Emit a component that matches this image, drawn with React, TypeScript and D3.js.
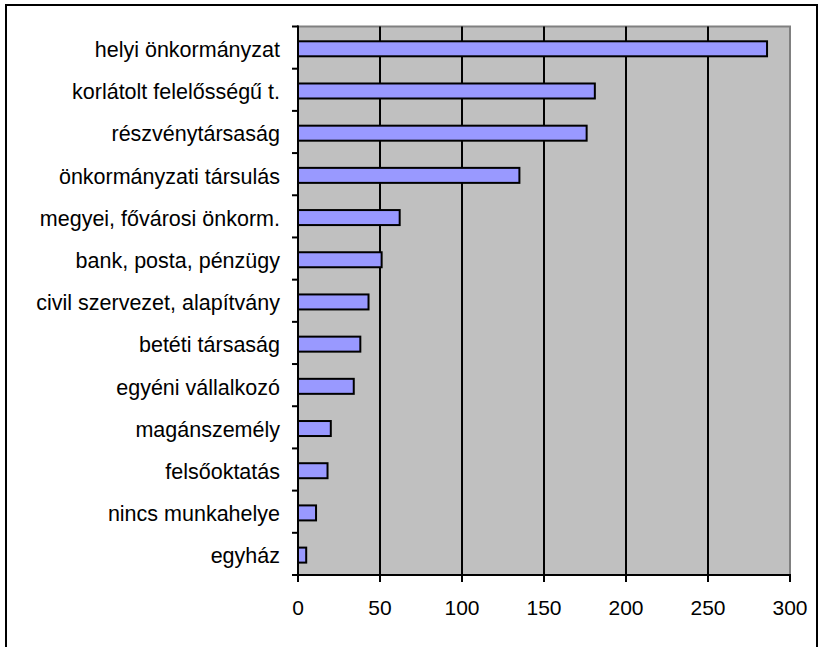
import React from "react";
import * as d3 from "d3";

const categories = [
  "helyi önkormányzat",
  "korlátolt felelősségű t.",
  "részvénytársaság",
  "önkormányzati társulás",
  "megyei, fővárosi önkorm.",
  "bank, posta, pénzügy",
  "civil szervezet, alapítvány",
  "betéti társaság",
  "egyéni vállalkozó",
  "magánszemély",
  "felsőoktatás",
  "nincs munkahelye",
  "egyház",
];
const values = [286, 181, 176, 135, 62, 51, 43, 38, 34, 20, 18, 11, 5];
const xTicks = [0, 50, 100, 150, 200, 250, 300];

const W = 820;
const H = 647;
const plot = { left: 298, right: 790, top: 26.5, bottom: 575 };
const FONT = "'Liberation Sans', Arial, sans-serif";

export default function App() {
  const x = d3.scaleLinear().domain([0, 300]).range([plot.left, plot.right]);
  const y = d3
    .scaleBand<string>()
    .domain(categories)
    .range([plot.top, plot.bottom])
    .paddingInner(0)
    .paddingOuter(0);
  const bw = y.bandwidth();
  const barH = 15;
  const boundaries = d3.range(categories.length + 1).map((i) => plot.top + i * bw);

  return (
    <svg
      width={W}
      height={H}
      style={{ position: "absolute", left: 0, top: 0, background: "#fff" }}
    >
      <rect x={0} y={0} width={W} height={H} fill="#fff" />
      {/* outer chart border */}
      <rect x={6} y={5} width={811} height={660} fill="none" stroke="#000" strokeWidth={2} />
      {/* plot area */}
      <rect
        x={plot.left}
        y={plot.top}
        width={plot.right - plot.left}
        height={plot.bottom - plot.top}
        fill="#C0C0C0"
        stroke="#808080"
        strokeWidth={2}
      />
      {/* gridlines */}
      {xTicks
        .filter((t) => t > 0 && t < 300)
        .map((t) => (
          <line
            key={"g" + t}
            x1={x(t)}
            x2={x(t)}
            y1={plot.top}
            y2={plot.bottom}
            stroke="#000"
            strokeWidth={2}
          />
        ))}
      {/* bars */}
      {categories.map((c, i) => {
        const yc = (y(c) as number) + bw / 2 + 1.2;
        return (
          <rect
            key={"b" + c}
            x={x(0)}
            y={yc - barH / 2}
            width={x(values[i]) - x(0)}
            height={barH}
            fill="#9999FF"
            stroke="#000"
            strokeWidth={2}
          />
        );
      })}
      {/* y axis */}
      <line x1={plot.left} x2={plot.left} y1={plot.top - 1} y2={plot.bottom + 1} stroke="#000" strokeWidth={2} />
      {boundaries.map((b, i) => (
        <line key={"yt" + i} x1={plot.left - 6} x2={plot.left} y1={b} y2={b} stroke="#000" strokeWidth={2} />
      ))}
      {/* x axis */}
      <line x1={plot.left - 1} x2={plot.right + 1} y1={plot.bottom} y2={plot.bottom} stroke="#000" strokeWidth={2} />
      {xTicks.map((t) => (
        <line key={"xt" + t} x1={x(t)} x2={x(t)} y1={plot.bottom} y2={plot.bottom + 7} stroke="#000" strokeWidth={2} />
      ))}
      {xTicks.map((t) => (
        <text
          key={"xl" + t}
          x={x(t)}
          y={615}
          textAnchor="middle"
          fontFamily={FONT}
          fontSize={21}
          fill="#000"
        >
          {t}
        </text>
      ))}
      {categories.map((c) => (
        <text
          key={"yl" + c}
          x={280}
          y={(y(c) as number) + bw / 2 + 9.5}
          textAnchor="end"
          fontFamily={FONT}
          fontSize={21.5}
          fill="#000"
        >
          {c}
        </text>
      ))}
    </svg>
  );
}
